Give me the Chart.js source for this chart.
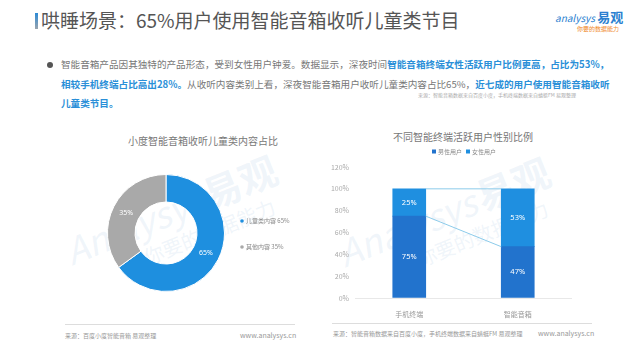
<!DOCTYPE html>
<html>
<head>
<meta charset="utf-8">
<script src="https://cdn.jsdelivr.net/npm/chart.js@4"></script>
<style>
  body { margin: 0; width: 640px; height: 352px; overflow: hidden; background: #fff;
         font-family: "Noto Sans CJK SC", "Noto Sans", sans-serif; color: #666; position: relative; }
  .abs { position: absolute; white-space: nowrap; }
  #bar-deco { left: 35px; top: 13px; width: 3px; height: 16px; background: linear-gradient(#2b8ad6, #9aa4ad); }
  #titre { left: 41px; top: 9px; font-size: 19px; line-height: 22px; color: #555; }
  #puce { left: 47px; top: 62px; width: 6px; height: 6px; border-radius: 50%; background: #555; }
  #texte { left: 61px; top: 55px; font-size: 9.6px; line-height: 19.5px; color: #777; }
  #texte b { color: #2a8fd8; }
  #src-haut { left: 418px; top: 91px; font-size: 5px; color: #aaa; }
  .ptitre { font-size: 10px; color: #777; }
  .trait { height: 1px; background: #ddd; }
  .src { font-size: 6px; color: #999; }
  .www { font-size: 7px; color: #999; }
  .filigrane { color: rgba(175, 205, 230, 0.2); transform: rotate(-22deg); transform-origin: center; }
  .filigrane span { font-size: 36px; font-style: italic; }
  .filigrane b { font-size: 38px; }
  .filigrane i { display: block; font-size: 20px; padding-left: 70px; margin-top: -6px; font-style: normal; }
</style>
</head>
<body>
<div class="abs filigrane" style="left:62px;top:180px;"><span>Analysys</span> <b>易观</b><i>你要的数据能力</i></div>
<div class="abs filigrane" style="left:335px;top:182px;"><span>Analysys</span> <b>易观</b><i>你要的数据能力</i></div>

<div class="abs" id="bar-deco"></div>
<div class="abs" id="titre">哄睡场景：65%用户使用智能音箱收听儿童类节目</div>
<div class="abs" style="left:555px;top:7px;font-size:10px;color:#2a7fd0;font-style:italic;">analysys <b style="font-style:normal;font-size:13px;">易观</b></div>
<div class="abs" style="left:577px;top:24px;font-size:6px;color:#f08a2c;">你要的数据能力</div>

<div class="abs" id="puce"></div>
<div class="abs" id="texte">智能音箱产品因其独特的产品形态，受到女性用户钟爱。数据显示，深夜时间<b>智能音箱终端女性活跃用户比例更高，占比为53%，</b><br><b>相较手机终端占比高出28%。</b>从收听内容类别上看，深夜智能音箱用户收听儿童类内容占比65%，<b>近七成的用户使用智能音箱收听</b><br><b>儿童类节目。</b></div>
<div class="abs" id="src-haut">来源：智能音箱数据来自百度小度，手机终端数据来自蜻蜓FM 易观整理</div>

<div class="abs ptitre" style="left:128px;top:133px;">小度智能音箱收听儿童类内容占比</div>
<div class="abs ptitre" style="left:393px;top:129px;">不同智能终端活跃用户性别比例</div>

<div class="abs" style="left:0;top:150px;width:320px;height:170px;"><canvas id="donut"></canvas></div>
<div class="abs" style="left:320px;top:140px;width:320px;height:180px;"><canvas id="barres"></canvas></div>

<div class="abs trait" style="left:65px;top:324px;width:230px;"></div>
<div class="abs src" style="left:65px;top:331px;">来源：百度小度智能音箱 易观整理</div>
<div class="abs www" style="left:240px;top:330px;">www.analysys.cn</div>

<div class="abs trait" style="left:332px;top:323px;width:260px;"></div>
<div class="abs src" style="left:333px;top:329px;">来源：智能音箱数据来自百度小度，手机终端数据来自蜻蜓FM 易观整理</div>
<div class="abs www" style="left:538px;top:328px;">www.analysys.cn</div>

<script>
// données du graphique en anneau
const contenus = ['儿童类内容', '其他内容'];
const partsContenu = [65, 35];
const couleursContenu = ['#1e8fdf', '#a9a9a9'];

// données du graphique en barres
const terminaux = ['手机终端', '智能音箱'];
const hommes = [75, 47];
const femmes = [25, 53];
const ticksY = [0, 20, 40, 60, 80, 100, 120];

Chart.defaults.font.family = '"Noto Sans CJK SC", "Noto Sans", sans-serif';

// étiquettes blanches au milieu des segments
const etiquettesAnneau = {
  id: 'etiquettesAnneau',
  afterDatasetsDraw(chart) {
    const ctx = chart.ctx;
    const meta = chart.getDatasetMeta(0);
    ctx.save();
    ctx.fillStyle = '#fff';
    ctx.font = '7px "Noto Sans", sans-serif';
    ctx.textAlign = 'center';
    ctx.textBaseline = 'middle';
    meta.data.forEach((arc, i) => {
      const p = arc.tooltipPosition();
      ctx.fillText(partsContenu[i] + '%', p.x, p.y);
    });
    ctx.restore();
  }
};

// légende de l'anneau
const legendeAnneau = {
  id: 'legendeAnneau',
  afterDraw(chart) {
    const ctx = chart.ctx;
    ctx.save();
    ctx.font = '6px "Noto Sans CJK SC", sans-serif';
    ctx.textBaseline = 'middle';
    contenus.forEach((nom, i) => {
      const y = 71 + i * 26;
      ctx.fillStyle = couleursContenu[i];
      ctx.beginPath();
      ctx.arc(242, y, 1.8, 0, Math.PI * 2);
      ctx.fill();
      ctx.fillStyle = '#888';
      ctx.fillText(nom + ' ' + partsContenu[i] + '%', 246, y);
    });
    ctx.restore();
  }
};

new Chart(document.getElementById('donut'), {
  type: 'doughnut',
  data: {
    labels: contenus,
    datasets: [{ data: partsContenu, backgroundColor: couleursContenu, borderColor: '#fff', borderWidth: 1 }]
  },
  options: {
    responsive: true,
    maintainAspectRatio: false,
    animation: false,
    cutout: '53%',
    layout: { padding: { left: 107, right: 95, top: 24, bottom: 28 } },
    plugins: { legend: { display: false }, tooltip: { enabled: false } }
  },
  plugins: [etiquettesAnneau, legendeAnneau]
});

// lignes reliant les deux barres + valeurs dans les barres
const liaisons = {
  id: 'liaisons',
  afterDatasetsDraw(chart) {
    const ctx = chart.ctx;
    ctx.save();
    ctx.strokeStyle = '#8ccbea';
    ctx.lineWidth = 1;
    chart.data.datasets.forEach((ds, d) => {
      const m = chart.getDatasetMeta(d).data;
      ctx.beginPath();
      ctx.moveTo(m[0].x + m[0].width / 2, m[0].y);
      ctx.lineTo(m[1].x - m[1].width / 2, m[1].y);
      ctx.stroke();
    });
    ctx.fillStyle = '#fff';
    ctx.font = '7.5px "Noto Sans", sans-serif';
    ctx.textAlign = 'center';
    ctx.textBaseline = 'middle';
    chart.data.datasets.forEach((ds, d) => {
      chart.getDatasetMeta(d).data.forEach((el, i) => {
        ctx.fillText(ds.data[i] + '%', el.x, (el.y + el.base) / 2);
      });
    });
    ctx.restore();
  }
};

const legendeBarres = {
  id: 'legendeBarres',
  afterDraw(chart) {
    const ctx = chart.ctx;
    ctx.save();
    ctx.font = '6px "Noto Sans CJK SC", sans-serif';
    ctx.textBaseline = 'middle';
    let x = 112;
    chart.data.datasets.forEach(ds => {
      ctx.fillStyle = ds.backgroundColor;
      ctx.fillRect(x, 9.5, 4, 4);
      ctx.fillStyle = '#888';
      ctx.fillText(ds.label, x + 6, 11.5);
      x += 34;
    });
    ctx.restore();
  }
};

new Chart(document.getElementById('barres'), {
  type: 'bar',
  data: {
    labels: terminaux,
    datasets: [
      { label: '男性用户', data: hommes, backgroundColor: '#2273cd', barThickness: 33 },
      { label: '女性用户', data: femmes, backgroundColor: '#1f8fe0', barThickness: 33 }
    ]
  },
  options: {
    responsive: true,
    maintainAspectRatio: false,
    animation: false,
    layout: { padding: { left: 0, right: 68, top: 27, bottom: 0 } },
    scales: {
      x: {
        stacked: true,
        grid: { display: false },
        border: { display: false },
        ticks: { color: '#999', font: { size: 7 }, padding: 4 },
        afterFit: s => { s.height = 22; }
      },
      y: {
        stacked: true,
        min: 0, max: 120,
        afterBuildTicks: s => { s.ticks = ticksY.map(v => ({ value: v })); },
        grid: { color: c => c.tick && c.tick.value === 0 ? '#e8e8e8' : 'transparent', drawTicks: false },
        border: { display: false },
        ticks: { color: '#aaa', font: { size: 7 }, padding: 6, callback: v => v + '%' },
        afterFit: s => { s.width = 35; }
      }
    },
    plugins: { legend: { display: false }, tooltip: { enabled: false } }
  },
  plugins: [liaisons, legendeBarres]
});
</script>
</body>
</html>
